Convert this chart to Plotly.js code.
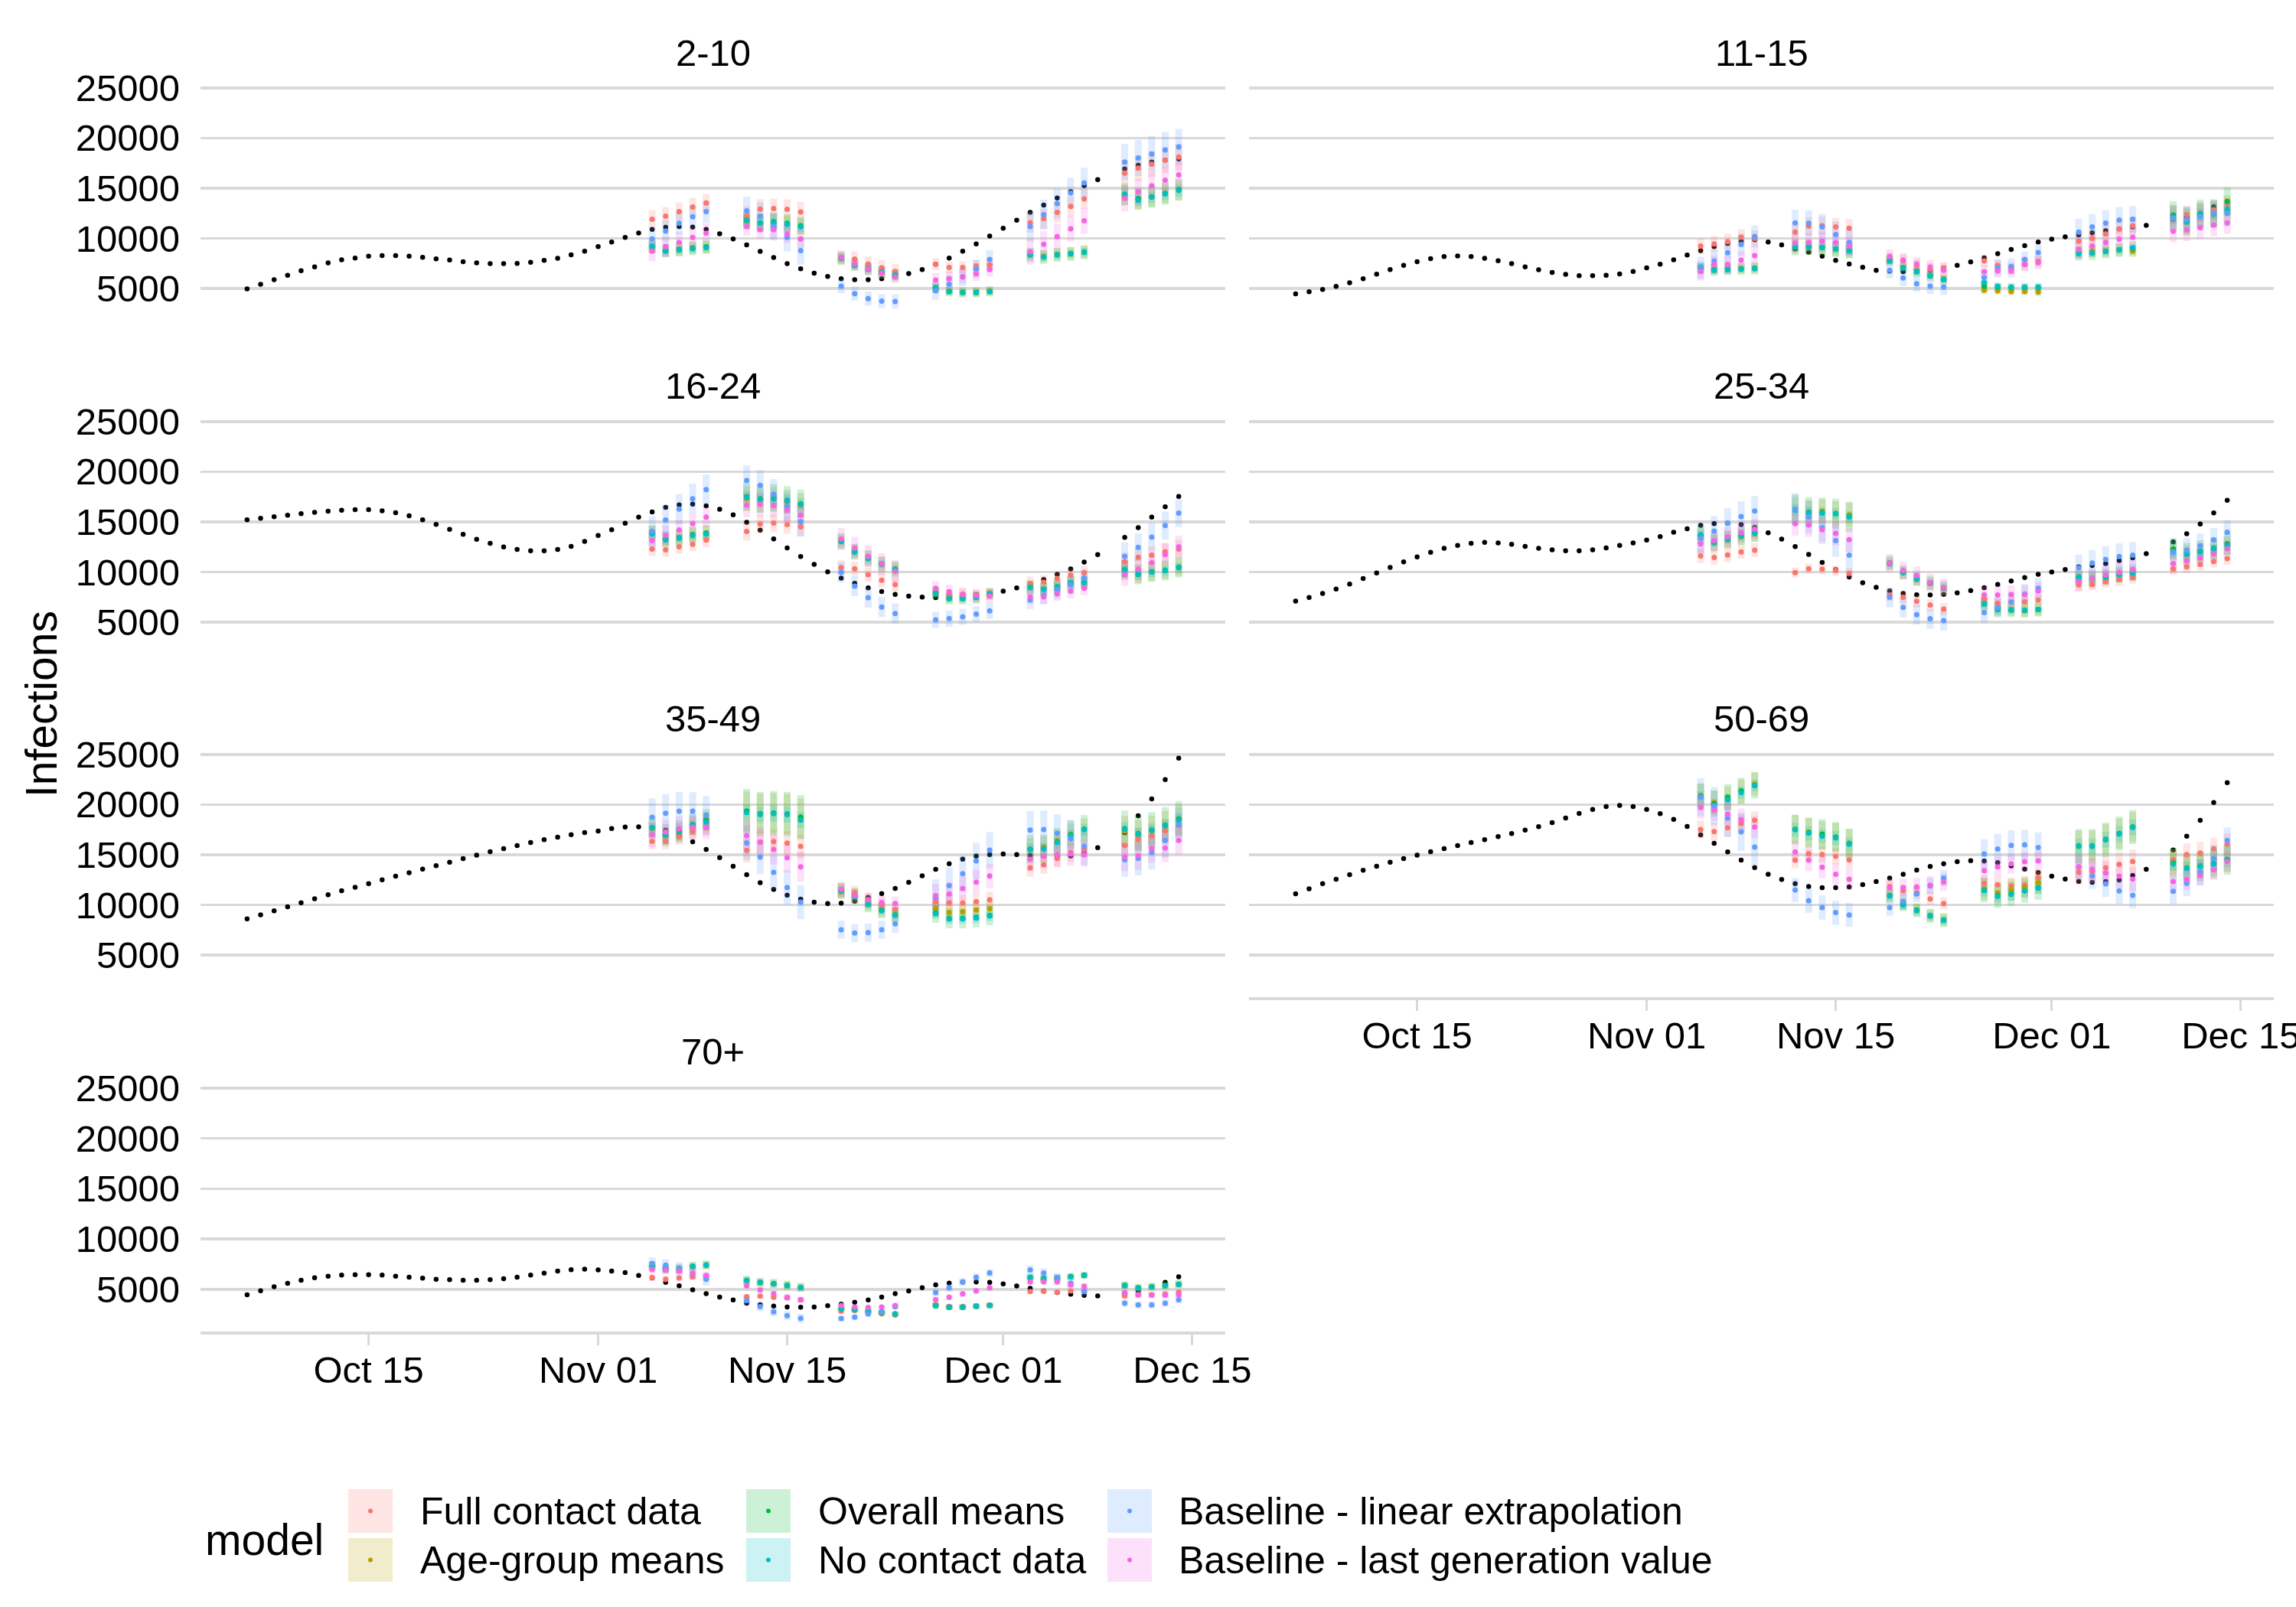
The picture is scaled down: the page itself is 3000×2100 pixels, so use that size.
<!DOCTYPE html>
<html><head><meta charset="utf-8">
<script src="https://cdn.plot.ly/plotly-3.0.1.min.js"></script>
<style>html,body{margin:0;padding:0;background:#fff}</style>
</head><body>
<div id="chart" style="width:3000px;height:2100px"></div>
<script>
// ---------------- DATA ----------------
const panels = ['2-10','11-15','16-24','25-34','35-49','50-69','70+'];
const models = ['Full contact data','Age-group means','Overall means','No contact data','Baseline - linear extrapolation','Baseline - last generation value'];
const modelColors = ['248,118,109','183,159,0','0,186,56','0,191,196','97,156,255','245,100,227'];
const obsStart = '2020-10-06';
const fcStarts = ['2020-11-05','2020-11-12','2020-11-19','2020-11-26','2020-12-03','2020-12-10'];
const tickDates = ['2020-10-15','2020-11-01','2020-11-15','2020-12-01','2020-12-15'];
const tickLabels = ['Oct 15','Nov 01','Nov 15','Dec 01','Dec 15'];
const yTicks = [5000,10000,15000,20000,25000];

// observed (daily, Oct 6 - Dec 14)
const obs_2_10 = [4950,5410,5870,6320,6760,7160,7550,7850,8030,8210,8280,8280,8210,8110,7950,7830,7670,7550,7470,7470,7490,7600,7800,8000,8360,8720,
 9170,9630,10090,10520,10880,11100,11180,11110,10880,10450,9940,9350,8690,8080,7470,6960,6530,6200,5970,5870,5870,5970,6170,6480,6880,7420,8030,8720,9430,10220,
 11010,11800,12580,13320,14010,14640,15260,15840,null,16920,17300,17600,17800,17900];
const obs_11_15 = [4460,4670,4900,5200,5560,5970,6420,6880,7310,7670,7980,8180,8230,8180,8000,7770,7470,7160,6860,6600,6400,6270,6270,6320,6450,6700,
 7060,7420,7850,8330,8770,9170,9480,9710,9860,9630,9350,8940,8610,8210,7800,7440,7110,6810,6730,6680,6750,6830,7030,7310,7650,8050,8460,8890,9270,9630,
 9910,10140,10340,10550,10750,10950,11130,11290,null,11900,12100,12400,13150,13670];
const obs_16_24 = [15200,15350,15500,15650,15800,15950,16050,16150,16200,16200,16100,15900,15600,15200,14750,14250,13750,13250,12850,12500,12250,12100,12100,12250,12550,13050,
 13630,14210,14850,15460,15990,16430,16680,16760,16600,16250,15690,14950,14160,13290,12400,11540,10750,10010,9380,8870,8410,8050,7770,7590,7490,7440,7500,7600,7750,7900,
 8080,8410,8800,9250,9760,10290,10980,11720,null,13450,14410,15460,16500,17520];
const obs_25_34 = [7100,7450,7850,8300,8800,9350,9900,10450,11000,11500,11950,12350,12650,12850,12950,12900,12750,12550,12350,12200,12100,12100,12200,12400,12650,12900,
 13170,13520,13960,14310,14640,14820,14850,14720,14440,13910,13270,12530,11740,10950,10220,9500,8920,8460,8100,7850,7720,7700,7770,7920,8150,8430,8760,9100,9430,9760,
 9990,10240,10500,10650,10830,11130,11410,11820,null,12990,13800,14770,15890,17140];
const obs_35_49 = [8600,9000,9400,9800,10200,10600,11000,11400,11750,12100,12500,12850,13200,13550,13900,14250,14600,14950,15300,15600,15900,16200,16500,16750,17000,17200,
 17350,17600,17760,17780,17700,17430,16870,16280,15520,14710,13840,13000,12210,11530,10970,10560,10260,10130,10160,10380,10740,11120,11630,12240,12900,13540,14100,14550,14860,15010,
 15060,15010,14930,14830,14820,14880,15140,15700,null,17200,18870,20550,22480,24620];
const obs_50_69 = [11100,11600,12100,12550,13000,13450,13850,14250,14600,14950,15300,15600,15900,16200,16500,16800,17100,17450,17800,18200,18650,19100,19500,19800,19900,19800,
 19510,19080,18520,17810,16970,16130,15270,14450,13710,13050,12520,12110,11830,11710,11710,11780,12010,12320,12670,13050,13460,13820,14100,14300,14400,14350,14200,13890,13560,13210,
 12850,12570,12340,12240,12320,12470,12930,13540,null,15470,16840,18420,20200,22180];
const obs_70 = [4450,4850,5250,5600,5900,6150,6300,6400,6450,6450,6400,6300,6200,6100,6000,5950,5900,5900,5950,6050,6200,6400,6600,6800,6950,7000,
 6930,6800,6650,6370,6120,5680,5350,4950,4560,4230,3930,3620,3470,3320,3240,3220,3240,3370,3520,3700,3930,4230,4560,4840,5150,5430,5610,5730,5730,5680,
 5530,5330,5100,4840,4670,4510,4390,4330,null,4590,4840,5230,5680,6240];

// forecast medians: rows = models (in model order), 6 weeks x 5 days
const med_2_10 = [
 [11900,12200,12660,13120,13520, 12200,12910,12960,12890,12630, 8050,7930,7440,7060,6700, 7420,7090,7090,7240,7340, 11560,11950,12580,13170,13930, 16500,17000,17400,17800,18100],
 [9150,8750,8850,9050,9100, 11700,11500,11600,11450,11200, 8050,7300,6950,6650,6350, 5100,4750,4650,4650,4750, 8400,8200,8400,8500,8650, 14300,13900,14100,14500,14800],
 [9200,8800,8900,9000,9150, 11800,11550,11650,11500,11250, 8000,7350,6900,6600,6300, 5050,4700,4600,4600,4700, 8350,8150,8350,8450,8600, 14400,13950,14150,14450,14850],
 [9220,8710,8840,8970,9070, 11770,11510,11560,11410,11130, 8030,7310,6980,6630,6350, 5070,4690,4620,4620,4690, 8380,8150,8360,8490,8640, 14360,13780,14110,14420,14770],
 [9940,10720,11490,12150,12660, 12740,12200,11180,10090,8770, 5230,4490,3980,3730,3700, 4770,5410,6140,6960,7900, 11180,12350,13470,14520,15530, 17600,18000,18400,18800,19100],
 [8710,9170,9600,10090,10500, 11180,10850,10850,10440,9940, 8080,7440,6930,6530,6140, 5840,5970,6170,6470,6880, 8660,9400,10160,10950,11740, 13980,14620,15230,15790,16320]];
const med_11_15 = [
 [9220,9430,9660,10110,9990, 10620,11210,11260,11130,11000, 8000,7770,7300,6930,7010, 7750,7310,7000,7400,7700, 9730,9990,10440,10930,11260, 12280,12350,12530,12840,13420],
 [7000,6900,6950,7000,7050, 9150,9100,9050,8900,8750, 7800,7100,6700,6300,5950, 4820,4770,4690,4690,4640, 8640,8710,8750,8850,8720, 12000,11600,12350,12400,12800],
 [7100,6850,6900,6950,7000, 9100,9150,9100,8950,8800, 7750,7050,6650,6250,5900, 5230,5150,5100,5100,5100, 8500,8550,8700,8850,9000, 12300,11700,12450,12500,13670],
 [7130,6810,6860,6930,6980, 9170,9150,9100,8920,8770, 7770,7060,6680,6300,5910, 5580,5230,5150,5150,5150, 8460,8540,8710,8840,9050, 12100,11640,12400,12460,12910],
 [7060,7750,8560,9380,10190, 11540,11490,11130,10370,9600, 6810,6040,5480,5230,5150, 6090,7060,7190,7900,8590, 10620,11130,11510,11820,11900, 12020,11840,12150,12500,12480],
 [6680,7390,7390,7820,8280, 9530,9600,9730,9600,9220, 8200,7820,7440,7140,6810, 6680,6750,6750,7390,7570, 8890,9220,9600,9910,10110, 10700,10830,11060,11310,11540]];
const med_16_24 = [
 [12280,12200,12510,12760,13170, 14030,14770,14870,14720,14490, 10440,10320,9730,9170,8740, 8000,7750,7800,7700,7860, 8840,8970,9350,9660,9910, 11030,11460,11670,12020,12280],
 [13900,13300,13450,13750,13900, 17300,17150,17250,17000,16650, 13100,12050,11400,10800,10300, 7900,7400,7400,7500,7850, 8500,8300,8550,8950,8950, 10250,9800,10050,10200,10500],
 [13850,13250,13400,13700,13850, 17500,17300,17350,17150,16800, 13050,12000,11350,10750,10250, 7850,7350,7350,7450,7800, 8450,8280,8500,8900,8950, 10200,9750,10000,10150,10450],
 [13780,13190,13370,13630,13780, 17440,17260,17320,17110,16760, 13040,11970,11330,10800,10270, 7820,7340,7340,7470,7820, 8460,8280,8510,8920,8940, 10190,9760,9990,10140,10440],
 [14060,15180,16270,17290,18210, 19120,18640,17750,16500,15000, 9960,8590,7440,6500,5860, 5230,5350,5530,5790,6120, 7210,7670,8230,8710,9380, 11560,12450,13470,14620,15860],
 [13120,13630,14190,14820,15460, 16650,16730,16630,16170,15660, 13290,12400,11560,10770,10060, 8380,8030,7750,7620,7590, 7520,7520,7820,8080,8380, 9710,10270,10930,11720,12510]];
const med_25_34 = [
 [11590,11440,11690,12000,12170, 9940,10320,10270,10140,9860, 7700,7470,7080,6700,6300, 7310,6880,7000,7010,7190, 8710,8760,9040,9220,9430, 10290,10520,10750,11050,11330],
 [13600,12900,13200,13500,13800, 16250,16000,16050,15850,15700, 10850,9950,9250,8850,8350, 6850,6300,6250,6150,6250, 9450,9300,9450,9700,9850, 12200,11750,12000,12300,12650],
 [13700,12950,13250,13600,13900, 16200,15950,15900,15800,15500, 10900,9950,9300,8900,8400, 6800,6250,6200,6150,6250, 9500,9350,9500,9750,9900, 12300,11800,12050,12350,12800],
 [13680,12940,13240,13570,13880, 16170,15920,15870,15790,15460, 10830,9940,9300,8900,8400, 6800,6250,6190,6170,6250, 9480,9350,9500,9730,9880, 11970,11770,11970,12280,12610],
 [13350,14080,14850,15530,16070, 16250,15460,14390,13120,11670, 7470,6470,5740,5330,5150, 5940,6450,7010,7800,8380, 10420,10880,11260,11540,11670, 11970,12170,12610,13190,13960],
 [12790,13120,13500,13930,14260, 14820,14690,14200,13850,13220, 10880,10140,9630,8920,8410, 7720,7700,7750,7750,8100, 9040,9350,9710,9960,10220, 10830,11110,11410,11820,12300]];
const med_35_49 = [
 [16330,16330,16790,17300,17700, 15420,16250,16310,16150,15820, 11400,11200,10490,9980,9520, 10300,10210,10180,10310,10510, 13690,13990,14630,15210,15570, 15900,16540,16870,17370,17930],
 [17600,16900,17250,17900,18400, 19300,19100,19150,19050,18600, 11300,10900,10100,9500,9050, 9650,9220,9300,9470,9620, 15520,15770,16400,17040,17500, 17350,17000,17400,17850,18500],
 [17700,16950,17300,18000,18450, 19350,19050,19150,19050,18750, 11450,10850,10050,9450,9000, 9200,8650,8650,8750,8950, 15550,15600,16250,17000,17550, 17600,17100,17450,17950,18550],
 [17680,16920,17300,17930,18240, 19210,19000,19080,19000,18440, 11400,10820,10030,9420,8960, 9110,8580,8600,8680,8880, 15520,15570,16210,16920,17500, 17550,17040,17430,17880,18440],
 [18720,19130,19330,19330,18930, 16180,14760,13230,11730,10260, 7510,7180,7230,7510,8100, 10740,11910,13100,14370,15440, 17450,17500,17120,16590,15850, 14500,14630,15210,16410,18000],
 [16990,17250,17600,17750,17750, 16890,16260,15520,14710,13790, 11530,10900,10490,10230,10130, 10900,11070,11630,12270,12880, 14550,14860,15010,15090,15010, 14760,14880,15600,15650,16410]];
const med_50_69 = [
 [17500,17300,17680,18110,18420, 14450,15090,15010,14830,14480, 11830,11400,11200,10590,10130, 12140,12000,11900,12000,12700, 13230,13360,13690,14040,14320, 14500,15010,15160,15600,16030],
 [20900,20200,20600,21300,22050, 17550,17250,16950,16750,16150, 10950,10100,9500,8950,8500, 11570,11200,11500,11760,12220, 15900,15900,16550,17100,17750, 14200,13700,13900,14150,14550],
 [20800,20090,20730,21360,21900, 17500,17200,17040,16750,16100, 10900,10050,9450,8900,8470, 11450,10900,11100,11400,11700, 15850,15850,16500,17100,17750, 14150,13650,13850,14100,14500],
 [20730,19890,20480,21190,21920, 17480,17150,16840,16660,16030, 10870,10000,9420,8880,8450, 11430,10840,11040,11380,11660, 15820,15820,16490,17040,17710, 14070,13610,13820,14070,14450],
 [20730,19840,18650,17270,15750, 11480,10410,9720,9220,8990, 9720,10330,11070,11880,12670, 15060,15570,15930,15980,15720, 13740,12900,12090,11380,10940, 11350,12140,13230,14630,16410],
 [19690,19460,19030,18490,17760, 15270,14450,13740,13050,12550, 11710,11710,11780,11960,12270, 13410,13790,14100,14300,14380, 13790,13560,13180,12850,12550, 12320,12520,12930,13490,14320]];
const med_70 = [
 [6170,5990,6120,6240,6200, 4260,4310,4210,4150,3950, 2810,2900,2850,2550,2430, 3450,3300,3300,3350,3450, 4770,4800,4720,4840,4850, 4330,4450,4450,4530,4720],
 [7300,7000,7000,7250,7380, 5850,5650,5530,5350,5170, 3100,2950,2800,2700,2550, 3450,3200,3200,3320,3390, 6150,6030,6110,6240,6370, 5350,5100,5230,5350,5480],
 [7350,7050,7050,7300,7420, 5900,5700,5580,5400,5200, 3050,2950,2800,2700,2550, 3350,3220,3220,3300,3380, 6200,6080,6150,6280,6400, 5400,5150,5250,5380,5500],
 [7310,7010,7010,7260,7390, 5860,5660,5530,5350,5170, 3060,2990,2810,2730,2550, 3370,3240,3240,3320,3390, 6170,6040,6120,6240,6370, 5350,5100,5230,5350,5480],
 [7570,7390,7110,6570,5990, 3880,3270,2760,2380,2120, 2100,2220,2550,2800,3270, 4670,5150,5730,6190,6620, 6930,6620,6170,5610,4770, 3620,3440,3440,3620,3950],
 [6960,6880,6800,6600,6370, 5350,4920,4560,4210,3950, 3390,3240,3190,3240,3390, 3950,4210,4540,4840,5150, 5730,5750,5730,5430,5300, 4670,4460,4410,4410,4460]];

// forecast interval half-widths, one per model per forecast week
const hw_2_10 = [[900,1000,750,600,1000,1300],[600,800,500,450,600,1000],[700,900,600,500,700,1100],[400,500,350,300,400,600],[1100,1400,700,900,1500,1800],[1000,900,600,700,1300,1300]];
const hw_11_15 = [[800,900,600,600,900,900],[500,700,400,400,600,1300],[600,800,500,450,700,1400],[350,450,300,250,400,600],[1100,1300,800,800,1300,1300],[900,900,700,650,1000,1100]];
const hw_16_24 = [[700,900,700,500,700,900],[700,1200,700,500,600,900],[800,1400,800,600,700,1000],[400,600,400,300,400,500],[1500,1500,1000,800,900,1400],[1000,1200,1100,700,700,1100]];
const hw_25_34 = [[700,500,600,500,600,600],[800,1200,600,600,700,900],[900,1500,700,700,800,1100],[450,600,350,350,450,500],[1500,1600,1000,1000,1300,1200],[1000,1200,900,900,1000,900]];
const hw_35_49 = [[800,1200,700,800,900,1100],[900,2000,700,900,1100,1500],[1100,2200,800,1000,1400,1800],[500,800,400,500,600,700],[1900,1700,900,1800,1900,1700],[1200,1500,700,1200,1200,1400]];
const hw_50_69 = [[900,800,600,800,1200,1100],[1200,1400,600,1100,1500,1300],[1300,1500,700,1200,1700,1500],[600,700,400,600,800,700],[1900,1200,800,1500,1300,1300],[1100,1100,900,1000,1200,1000]];
const hw_70 = [[350,250,150,200,250,300],[400,400,200,250,300,350],[450,450,250,300,350,400],[200,200,120,150,180,200],[600,450,300,400,450,350],[400,300,200,300,300,300]];

const panelObs = [obs_2_10, obs_11_15, obs_16_24, obs_25_34, obs_35_49, obs_50_69, obs_70];
const panelMed = [med_2_10, med_11_15, med_16_24, med_25_34, med_35_49, med_50_69, med_70];
const panelHw = [hw_2_10, hw_11_15, hw_16_24, hw_25_34, hw_35_49, hw_50_69, hw_70];

// ---------------- BUILD ----------------
function addDays(s, n) { const d = new Date(s + 'T00:00:00Z'); d.setUTCDate(d.getUTCDate() + n); return d.toISOString().slice(0, 10); }
const obsDates = panelObs[0].map((_, i) => addDays(obsStart, i));
const fcDates = [];
fcStarts.forEach(s => { for (let k = 0; k < 5; k++) fcDates.push(addDays(s, k)); });

const W = 3000, H = 2100;
const colX = [[262, 1601], [1632, 2971]];
const rowTop = [101, 537, 972, 1408], rowBot = [432, 868, 1303, 1740];
const stripY = [69, 504, 939, 1374];
const FONT = 'Liberation Sans, Arial, Helvetica, sans-serif';
const TXT = 49;

const traces = [];
const layout = {
  width: W, height: H, margin: {l: 0, r: 0, t: 0, b: 0},
  paper_bgcolor: '#fff', plot_bgcolor: '#fff',
  font: {family: FONT, color: '#000', size: TXT},
  showlegend: false, annotations: [], shapes: []
};

panels.forEach((name, p) => {
  const col = p % 2, row = Math.floor(p / 2);
  const xa = p === 0 ? 'x' : 'x' + (p + 1), ya = p === 0 ? 'y' : 'y' + (p + 1);
  const xk = p === 0 ? 'xaxis' : 'xaxis' + (p + 1), yk = p === 0 ? 'yaxis' : 'yaxis' + (p + 1);
  const bottom = (p === 6 || p === 5);
  layout[xk] = {
    domain: [colX[col][0] / W, colX[col][1] / W], anchor: ya, type: 'date',
    range: ['2020-10-02 13:12', '2020-12-17 10:48'],
    showgrid: false, zeroline: false,
    tickmode: 'array', tickvals: tickDates, ticktext: tickLabels,
    showticklabels: bottom, ticks: bottom ? 'outside' : '', ticklen: 14, tickwidth: 3, tickcolor: '#D9D9D9',
    showline: bottom, linecolor: '#D9D9D9', linewidth: 4,
    tickfont: {size: TXT, color: '#000', family: FONT}, ticklabelstandoff: -10, ticklabeloverflow: 'allow'
  };
  layout[yk] = {
    domain: [1 - rowBot[row] / H, 1 - rowTop[row] / H], anchor: xa,
    range: [800, 26050], tickmode: 'array', tickvals: yTicks, ticktext: yTicks.map(String),
    showgrid: true, gridcolor: '#D9D9D9', gridwidth: 3.5, zeroline: false, showline: false,
    showticklabels: col === 0, ticks: '', tickfont: {size: TXT, color: '#000', family: FONT}, ticklabelstandoff: 26
  };
  layout.annotations.push({text: name, xref: 'paper', yref: 'paper', x: (colX[col][0] + colX[col][1]) / 2 / W, y: 1 - stripY[row] / H,
    xanchor: 'center', yanchor: 'middle', showarrow: false, font: {size: TXT, color: '#000', family: FONT}});

  // observed
  traces.push({type: 'scatter', mode: 'markers', x: obsDates, y: panelObs[p], xaxis: xa, yaxis: ya,
    marker: {color: '#000', size: 6.5}, hoverinfo: 'skip', cliponaxis: false});
  // intervals
  models.forEach((m, k) => {
    const hw = fcDates.map((_, i) => panelHw[p][k][Math.floor(i / 5)]);
    traces.push({type: 'scatter', mode: 'markers', x: fcDates, y: panelMed[p][k], xaxis: xa, yaxis: ya,
      marker: {color: 'rgba(0,0,0,0)', size: 1},
      error_y: {type: 'data', symmetric: true, array: hw, thickness: 9, width: 0, color: 'rgba(' + modelColors[k] + ',0.2)'},
      hoverinfo: 'skip'});
  });
  // medians
  models.forEach((m, k) => {
    traces.push({type: 'scatter', mode: 'markers', x: fcDates, y: panelMed[p][k], xaxis: xa, yaxis: ya,
      marker: {color: 'rgb(' + modelColors[k] + ')', size: 7}, hoverinfo: 'skip', name: m});
  });
});

// y axis title
layout.annotations.push({text: 'Infections', xref: 'paper', yref: 'paper', x: 54 / W, y: 1 - 920 / H, textangle: -90,
  xanchor: 'center', yanchor: 'middle', showarrow: false, font: {size: 57, color: '#000', family: FONT}});

// legend (drawn by hand: 3 columns x 2 rows, column-major)
layout.annotations.push({text: 'model', xref: 'paper', yref: 'paper', x: 266 / W, y: 1 - 2012 / H,
  xanchor: 'left', yanchor: 'middle', showarrow: false, font: {size: 57, color: '#000', family: FONT}});
const keyX = [[455, 513], [975, 1033], [1447, 1505]];
const keyY = [[1946, 2003], [2010, 2067]];
const labX = [547, 1067, 1538];
models.forEach((m, k) => {
  const c = Math.floor(k / 2), r = k % 2;
  layout.shapes.push({type: 'rect', xref: 'paper', yref: 'paper', x0: keyX[c][0] / W, x1: keyX[c][1] / W,
    y0: 1 - keyY[r][1] / H, y1: 1 - keyY[r][0] / H, fillcolor: 'rgba(' + modelColors[k] + ',0.2)', line: {width: 0}});
  const cx = (keyX[c][0] + keyX[c][1]) / 2, cy = (keyY[r][0] + keyY[r][1]) / 2;
  layout.shapes.push({type: 'circle', xref: 'paper', yref: 'paper', x0: (cx - 3) / W, x1: (cx + 3) / W,
    y0: 1 - (cy + 3) / H, y1: 1 - (cy - 3) / H, fillcolor: 'rgb(' + modelColors[k] + ')', line: {width: 0}});
  layout.annotations.push({text: m, xref: 'paper', yref: 'paper', x: labX[c] / W, y: 1 - cy / H,
    xanchor: 'left', yanchor: 'middle', showarrow: false, font: {size: 50, color: '#000', family: FONT}});
});

Plotly.newPlot('chart', traces, layout, {displayModeBar: false, staticPlot: true});
</script>
</body></html>
